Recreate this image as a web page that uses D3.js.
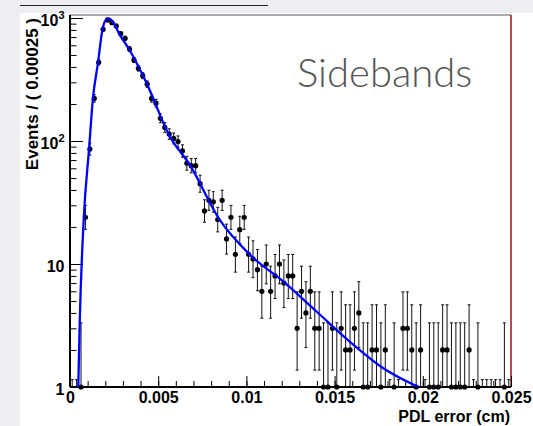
<!DOCTYPE html>
<html>
<head>
<meta charset="utf-8">
<script src="https://d3js.org/d3.v7.min.js"></script>
<style>
  body { margin: 0; background: #fff; }
  svg { display: block; font-family: "Liberation Sans", Arial, sans-serif; }
</style>
</head>
<body>
<svg width="533" height="426"></svg>
<script>
// histogram: 100 bins of 0.00025 cm from 0 to 0.025
var binWidth = 0.00025;
var counts = [
  0, 0, 1, 24, 86, 222, 436, 809, 964, 916,
  861, 746, 684, 560, 456, 390, 340, 290, 222, 203,
  153, 129, 114, 105, 99, 83, 66, 63, 63, 45,
  27, 33, 32, 23, 33, 16, 24, 12, 19, 24,
  12, 11, 9, 6, 10, 6, 8, 10, 7, 8,
  8, 3, 6, 4, 6, 3, 3, 1, 1, 3,
  1, 3, 2, 2, 3, 4, 1, 1, 2, 2,
  1, 2, 0, 1, 0, 3, 3, 2, 1, 2,
  0, 1, 1, 1, 2, 2, 1, 1, 1, 1,
  2, 0, 1, 0, 0, 0, 0, 0, 1, 0
];

// fitted pdf
var fitX = [0.00047, 0.00055, 0.00078, 0.00108, 0.0013, 0.00159, 0.00183, 0.002, 0.00223,
            0.0025, 0.0028, 0.00334, 0.00437, 0.00561, 0.0068, 0.0085, 0.0102, 0.0121,
            0.01399, 0.01587, 0.01776, 0.01975];
var fitY = [1, 3.3, 23.5, 86, 222, 436, 790, 950, 990,
            900, 740, 560, 290, 112, 63.6, 22.7, 11.9, 7.18,
            4.09, 2.33, 1.42, 1.0];

var xTicks = [0, 0.005, 0.01, 0.015, 0.02, 0.025];
var xTickLabels = ['0', '0.005', '0.01', '0.015', '0.02', '0.025'];
var yTicks = [1, 10, 100, 1000];
var yTickBase = ['1', '10', '10', '10'];
var yTickExp = ['', '', '2', '3'];

var svg = d3.select('svg');
var plotL = 70, plotR = 511, plotT = 15, plotB = 387;

var x = d3.scaleLinear().domain([0, 0.025]).range([plotL, plotR]);
var y = d3.scaleLog().domain([1, 1058]).range([plotB, plotT]);

// page background
svg.append('rect').attr('width', 533).attr('height', 426).attr('fill', '#eceef1');
svg.append('rect').attr('x', 20).attr('y', 13).attr('width', 513).attr('height', 413).attr('fill', '#fff');
svg.append('line').attr('x1', 20).attr('x2', 268).attr('y1', 5.5).attr('y2', 5.5)
  .attr('stroke', '#222').attr('stroke-width', 1.2);

// frame
svg.append('line').attr('x1', plotL).attr('x2', plotR).attr('y1', plotT).attr('y2', plotT)
  .attr('stroke', '#555').attr('stroke-width', 1);
svg.append('line').attr('x1', plotR).attr('x2', plotR).attr('y1', plotT).attr('y2', plotB)
  .attr('stroke', '#a01010').attr('stroke-width', 1.5);

// x axis
var xMinor = d3.axisBottom(x).tickValues(d3.range(0, 26).map(function(i) { return i * 0.001; }))
  .tickSize(-6).tickSizeOuter(0).tickFormat('');
var xMajor = d3.axisBottom(x).tickValues(xTicks).tickSize(-11).tickSizeOuter(0).tickPadding(5)
  .tickFormat(function(d, i) { return xTickLabels[i]; });
var gx1 = svg.append('g').attr('transform', 'translate(0,' + plotB + ')').call(xMinor);
var gx2 = svg.append('g').attr('transform', 'translate(0,' + plotB + ')').call(xMajor);
[gx1, gx2].forEach(function(g) {
  g.select('.domain').remove();
  g.selectAll('line').attr('stroke', '#000').attr('stroke-width', 1);
});
gx2.selectAll('text').attr('font-size', 16).attr('font-weight', 'bold').attr('fill', '#000')
  .attr('font-family', '"Liberation Sans", Arial, sans-serif');

// y axis
var yMinorVals = [];
[1, 10, 100].forEach(function(d) { d3.range(2, 10).forEach(function(k) { yMinorVals.push(k * d); }); });
var yMinor = d3.axisLeft(y).tickValues(yMinorVals).tickSize(-6.5).tickSizeOuter(0).tickFormat('');
var yMajor = d3.axisLeft(y).tickValues(yTicks).tickSize(-13).tickSizeOuter(0).tickFormat('');
[yMinor, yMajor].forEach(function(a) {
  var g = svg.append('g').attr('transform', 'translate(' + plotL + ',0)').call(a);
  g.select('.domain').remove();
  g.selectAll('line').attr('stroke', '#000').attr('stroke-width', 1);
});

var yLab = svg.append('g').selectAll('text').data(yTicks).enter().append('text')
  .attr('x', 64.5)
  .attr('y', function(d) { return y(d) + 8; })
  .attr('text-anchor', 'end')
  .attr('font-size', 16).attr('font-weight', 'bold');
yLab.append('tspan').text(function(d, i) { return yTickBase[i]; });
yLab.append('tspan').attr('dy', -7).attr('font-size', 11)
  .text(function(d, i) { return yTickExp[i]; });

// axis lines
svg.append('line').attr('x1', plotL).attr('x2', plotR).attr('y1', plotB).attr('y2', plotB)
  .attr('stroke', '#000').attr('stroke-width', 2);
svg.append('line').attr('x1', plotL).attr('x2', plotL).attr('y1', plotT).attr('y2', plotB)
  .attr('stroke', '#000').attr('stroke-width', 2);

// axis titles
svg.append('text').attr('x', 510).attr('y', 422).attr('text-anchor', 'end')
  .attr('font-size', 16).attr('font-weight', 'bold').text('PDL error (cm)');
svg.append('text').attr('transform', 'translate(37.5,18) rotate(-90)').attr('text-anchor', 'end')
  .attr('font-size', 17).attr('font-weight', 'bold').text('Events / ( 0.00025 )');

// data points with poisson error bars
var bins = counts.map(function(n, i) {
  var lo, hi;
  if (n === 0) { lo = 0; hi = 1.148; }
  else {
    hi = n + Math.sqrt(n + 0.75) + 1;
    lo = n * Math.pow(1 - 1 / (9 * n) - 1 / (3 * Math.sqrt(n)), 3);
  }
  return { x: (i + 0.5) * binWidth, n: n, lo: lo, hi: hi };
});
var yc = function(v) { return v <= 1 ? plotB : y(v); };

var gd = svg.append('g');
gd.selectAll('line.bar').data(bins).enter().append('line')
  .attr('x1', function(d) { return x(d.x); }).attr('x2', function(d) { return x(d.x); })
  .attr('y1', function(d) { return yc(d.lo); }).attr('y2', function(d) { return yc(d.hi); })
  .attr('stroke', '#111').attr('stroke-width', 1);
gd.selectAll('line.capT').data(bins).enter().append('line')
  .attr('x1', function(d) { return x(d.x) - 1.5; }).attr('x2', function(d) { return x(d.x) + 1.5; })
  .attr('y1', function(d) { return yc(d.hi); }).attr('y2', function(d) { return yc(d.hi); })
  .attr('stroke', '#111').attr('stroke-width', 1);
gd.selectAll('line.capB').data(bins.filter(function(d) { return d.lo > 1; })).enter().append('line')
  .attr('x1', function(d) { return x(d.x) - 1.5; }).attr('x2', function(d) { return x(d.x) + 1.5; })
  .attr('y1', function(d) { return yc(d.lo); }).attr('y2', function(d) { return yc(d.lo); })
  .attr('stroke', '#111').attr('stroke-width', 1);
gd.selectAll('circle').data(bins.filter(function(d) { return d.n > 0; })).enter().append('circle')
  .attr('cx', function(d) { return x(d.x); })
  .attr('cy', function(d) { return y(d.n); })
  .attr('r', 2.6).attr('fill', '#000');

// fit curve
svg.append('clipPath').attr('id', 'clip').append('rect')
  .attr('x', plotL).attr('y', plotT).attr('width', plotR - plotL).attr('height', plotB - plotT);
var line = d3.line()
  .x(function(d) { return x(d[0]); })
  .y(function(d) { return y(d[1]); })
  .curve(d3.curveMonotoneX);
svg.append('path').datum(d3.zip(fitX, fitY))
  .attr('clip-path', 'url(#clip)')
  .attr('d', line).attr('fill', 'none').attr('stroke', '#0000ff').attr('stroke-width', 2.3);

// label
svg.append('text').attr('x', 297).attr('y', 87)
  .attr('font-family', 'Lato, "Open Sans", sans-serif').attr('font-weight', 300)
  .attr('font-size', 40).attr('fill', '#555').text('Sidebands');
</script>
</body>
</html>
